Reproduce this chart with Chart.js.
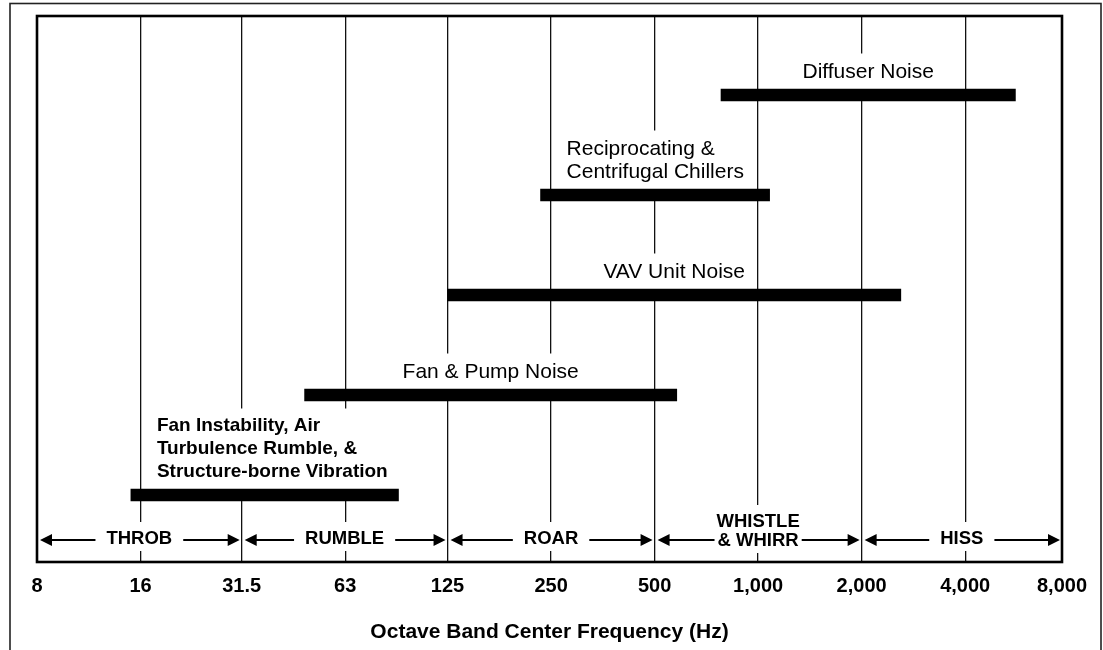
<!DOCTYPE html>
<html>
<head>
<meta charset="utf-8">
<script src="https://cdn.jsdelivr.net/npm/chart.js@4"></script>
<style>
  html, body { margin: 0; padding: 0; background: #fff; }
  #wrap { width: 1103px; height: 650px; position: relative; }
</style>
</head>
<body>
<div id="wrap"><canvas id="noiseChart"></canvas></div>
<script>
// noise sources, top row first
const sources = [
  ["Diffuser Noise"],
  ["Reciprocating &", "Centrifugal Chillers"],
  ["VAV Unit Noise"],
  ["Fan & Pump Noise"],
  ["Fan Instability, Air", "Turbulence Rumble, &", "Structure-borne Vibration"]
];
// frequency range of each source (Hz)
const rangeStart = [780, 233, 125, 48, 15];
const rangeEnd = [5600, 1080, 2600, 580, 90];

// octave band tick labels
const tickValues = [8, 16, 31.5, 63, 125, 250, 500, 1000, 2000, 4000, 8000];
const tickLabels = ["8", "16", "31.5", "63", "125", "250", "500", "1,000", "2,000", "4,000", "8,000"];

// subjective bands along the bottom
const bandNames = [["THROB"], ["RUMBLE"], ["ROAR"], ["WHISTLE", "& WHIRR"], ["HISS"]];
const bandEdges = [8, 31.5, 125, 500, 2000, 8000];

const FONT = "'Liberation Sans', Arial, Helvetica, sans-serif";
const X_MIN = 8, X_MAX = 7650;
// per-row text style for source labels
const labelFonts = ["21px", "21px", "21px", "21px", "bold 19px"];

const labelPlugin = {
  id: "noiseLabels",
  beforeDatasetsDraw(chart) {
    const { ctx, chartArea } = chart;
    const x = chart.scales.x, y = chart.scales.y;
    ctx.save();
    ctx.textBaseline = "middle";

    // source labels above the bars
    sources.forEach((lines, i) => {
      const size = labelFonts[i].indexOf("19") >= 0 ? 19 : 21;
      ctx.font = labelFonts[i] + " " + FONT;
      const rowY = y.getPixelForValue(i);
      const xs = x.getPixelForValue(rangeStart[i]);
      const xe = x.getPixelForValue(rangeEnd[i]);
      const lh = 23;
      const widths = lines.map(l => ctx.measureText(l).width);
      const w = Math.max(...widths);
      let left;
      if (lines.length > 1) left = xs + 26;
      else left = (xs + xe) / 2 - w / 2;
      const firstY = rowY - 23 - (lines.length - 1) * lh;
      ctx.fillStyle = "#fff";
      ctx.fillRect(left - 4, firstY - size / 2 - 8, w + 8, rowY - 6 - (firstY - size / 2 - 8));
      ctx.fillStyle = "#000";
      ctx.textAlign = "left";
      lines.forEach((l, k) => {
        const lx = lines.length > 1 ? left : left + (w - widths[k]) / 2;
        ctx.fillText(l, lx, firstY + k * lh);
      });
    });

    // band labels with arrows
    const arrowY = chartArea.bottom - 22;
    ctx.font = "bold 18.5px " + FONT;
    ctx.strokeStyle = "#000";
    ctx.lineWidth = 1.8;
    bandNames.forEach((lines, i) => {
      const x0 = x.getPixelForValue(bandEdges[i]);
      const x1 = x.getPixelForValue(Math.min(bandEdges[i + 1], X_MAX));
      const cx = (x0 + x1) / 2;
      const widths = lines.map(l => ctx.measureText(l).width);
      const w = Math.max(...widths);
      const ys = lines.length > 1 ? [arrowY - 18, arrowY + 1] : [arrowY - 1];
      ctx.fillStyle = "#fff";
      ctx.fillRect(cx - w / 2 - 3, ys[0] - 17, w + 6, ys[ys.length - 1] - ys[0] + 29);
      ctx.fillStyle = "#000";
      ctx.textAlign = "center";
      lines.forEach((l, k) => ctx.fillText(l, cx, ys[k]));

      const aw = widths[widths.length - 1];
      const gap = lines.length > 1 ? 3 : 11;
      const lt = x0 + 3, rt = x1 - 2;
      ctx.beginPath();
      ctx.moveTo(lt + 10, arrowY);
      ctx.lineTo(cx - aw / 2 - gap, arrowY);
      ctx.moveTo(cx + aw / 2 + gap, arrowY);
      ctx.lineTo(rt - 10, arrowY);
      ctx.stroke();
      ctx.beginPath();
      ctx.moveTo(lt, arrowY);
      ctx.lineTo(lt + 12, arrowY - 6);
      ctx.lineTo(lt + 12, arrowY + 6);
      ctx.closePath();
      ctx.moveTo(rt, arrowY);
      ctx.lineTo(rt - 12, arrowY - 6);
      ctx.lineTo(rt - 12, arrowY + 6);
      ctx.closePath();
      ctx.fill();
    });
    ctx.restore();
  },
  afterDraw(chart) {
    const { ctx, chartArea: a } = chart;
    ctx.save();
    // plot frame
    ctx.strokeStyle = "#000";
    ctx.lineWidth = 2.6;
    ctx.strokeRect(a.left, a.top, a.right - a.left, a.bottom - a.top);
    // outer frame of the figure
    ctx.strokeStyle = "#222";
    ctx.lineWidth = 1.6;
    ctx.strokeRect(10, 3.5, 1091, 700);
    ctx.restore();
  }
};

new Chart(document.getElementById("noiseChart"), {
  type: "bar",
  data: {
    datasets: [{
      data: sources.map((s, i) => ({ x: [rangeStart[i], rangeEnd[i]], y: i })),
      backgroundColor: "#000",
      borderWidth: 0,
      barThickness: 12
    }]
  },
  options: {
    indexAxis: "y",
    responsive: true,
    maintainAspectRatio: false,
    animation: false,
    layout: { padding: { left: 37, right: 41, top: 16, bottom: 0 } },
    plugins: { legend: { display: false }, tooltip: { enabled: false } },
    scales: {
      x: {
        type: "logarithmic",
        position: "bottom",
        min: X_MIN,
        max: X_MAX,
        bounds: "data",
        afterBuildTicks: axis => {
          axis.ticks = tickValues.map(v => ({ value: Math.min(v, X_MAX) }));
        },
        afterFit: axis => { axis.height = 88; },
        grid: { color: "#111", lineWidth: 1.3, drawTicks: false },
        border: { display: false },
        ticks: {
          autoSkip: false,
          maxRotation: 0,
          padding: 12,
          color: "#000",
          font: { family: FONT, size: 20, weight: "bold" },
          callback: (v, i) => tickLabels[i]
        },
        title: {
          display: true,
          text: "Octave Band Center Frequency (Hz)",
          color: "#000",
          font: { family: FONT, size: 21, weight: "bold" },
          padding: { top: 0, bottom: 5 }
        }
      },
      y: {
        type: "linear",
        display: false,
        offset: false,
        reverse: true,
        min: -0.79,
        max: 4.67
      }
    }
  },
  plugins: [labelPlugin]
});
</script>
</body>
</html>
